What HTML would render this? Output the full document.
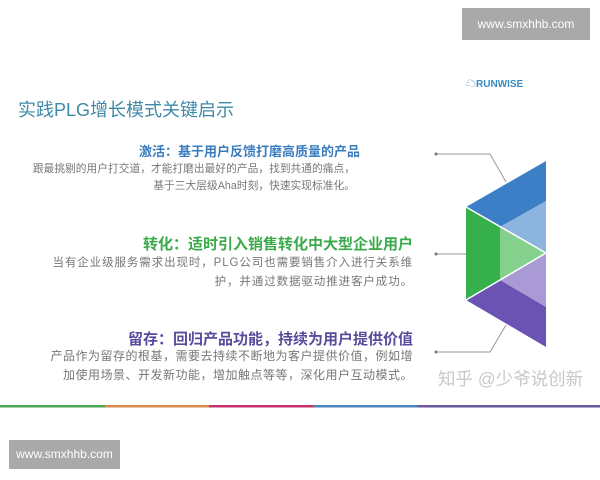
<!DOCTYPE html>
<html><head><meta charset="utf-8"><style>
body{margin:0;width:600px;height:480px;background:#fff;position:relative;overflow:hidden;font-family:"Liberation Sans","Noto Sans CJK SC",sans-serif}
.a{position:absolute;white-space:nowrap}
.h{font-weight:bold;text-align:right}
.b{color:#777;text-align:right}
</style></head><body>
<div class="a" style="left:462px;top:8px;width:128px;height:32px;background:#a9a9a9;color:#fff;font-size:12px;line-height:32px;text-align:center">www.smxhhb.com</div>
<div class="a" style="left:466px;top:75px;font-size:10px;font-weight:bold;color:#3a8cc0">☁RUNWISE</div>
<div class="a" style="left:18px;top:96px;font-size:18px;color:#3f8aa6">实践PLG增长模式关键启示</div>

<div class="a h" style="right:240px;top:141px;color:#3a7dbf;font-size:13px">激活：基于用户反馈打磨高质量的产品</div>
<div class="a b" style="right:245px;top:161px;font-size:10.7px;line-height:17px;letter-spacing:0.05px">跟最挑剔的用户打交道，才能打磨出最好的产品，找到共通的痛点，<br>基于三大层级Aha时刻，快速实现标准化。</div>

<div class="a h" style="right:187px;top:233px;color:#3aa94a;font-size:15px">转化：适时引入销售转化中大型企业用户</div>
<div class="a b" style="right:187px;top:254px;font-size:11.5px;line-height:19px;letter-spacing:0.9px">当有企业级服务需求出现时，PLG公司也需要销售介入进行关系维<br>护，并通过数据驱动推进客户成功。</div>

<div class="a h" style="right:187px;top:328px;color:#5a4a9c;font-size:15px">留存：回归产品功能，持续为用户提供价值</div>
<div class="a b" style="right:187px;top:347px;font-size:12px;line-height:19px;letter-spacing:0.5px">产品作为留存的根基，需要去持续不断地为客户提供价值，例如增<br>加使用场景、开发新功能，增加触点等等，深化用户互动模式。</div>

<svg class="a" style="left:0;top:0" width="600" height="480">
<g stroke="#999" stroke-width="1" fill="none">
<polyline points="436,154 490,154 506,182"/>
<polyline points="436,254 466,254"/>
<polyline points="436,352 490,352 506,325"/>
</g>
<g fill="#777"><circle cx="436" cy="154" r="1.5"/><circle cx="436" cy="254" r="1.5"/><circle cx="436" cy="352" r="1.5"/></g>
<polygon points="466,207 546,161 546,201 500,227" fill="#3d7fc6"/>
<polygon points="500,227 546,201 546,253" fill="#8db3df"/>
<polygon points="466,207 500,227 500,280 466,300" fill="#35b04a"/>
<polygon points="500,227 546,253 500,280" fill="#86d08e"/>
<polygon points="500,280 546,253 546,307" fill="#a99ad6"/>
<polygon points="466,300 500,280 546,307 546,347" fill="#6a53b3"/>
<g stroke="#fff" stroke-width="1.5"><line x1="466" y1="207" x2="546" y2="253"/><line x1="466" y1="300" x2="546" y2="253"/></g>
<rect x="0" y="405" width="105" height="2.5" fill="#4aa64e"/>
<rect x="105" y="405" width="104" height="2.5" fill="#d9894a"/>
<rect x="209" y="405" width="105" height="2.5" fill="#c8336e"/>
<rect x="314" y="405" width="104" height="2.5" fill="#4c86b8"/>
<rect x="418" y="405" width="182" height="2.5" fill="#6a5aa0"/>
</svg>
<div class="a" style="left:438px;top:366px;font-size:17.5px;color:#c8c8c8">知乎 @少爷说创新</div>
<div class="a" style="left:9px;top:440px;width:111px;height:29px;background:#a9a9a9;color:#fff;font-size:12px;line-height:29px;text-align:center">www.smxhhb.com</div>
</body></html>
